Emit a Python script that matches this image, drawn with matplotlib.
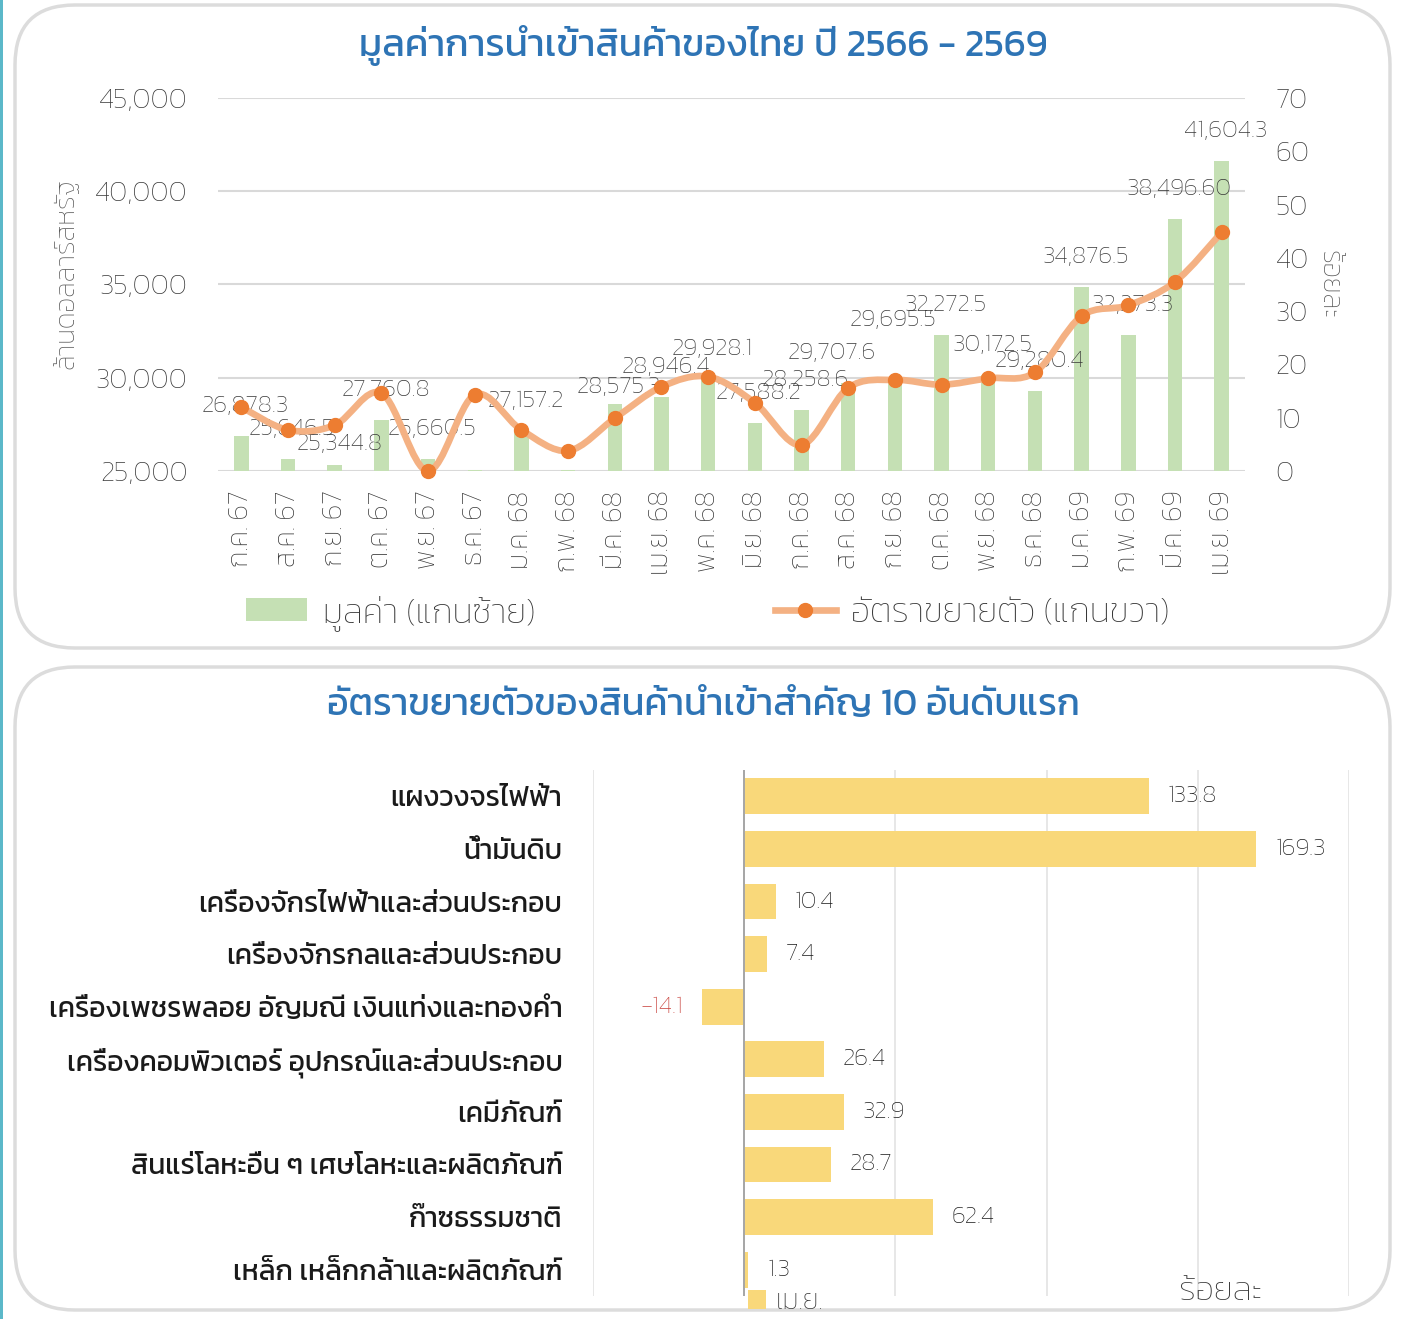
import numpy as np
import matplotlib
matplotlib.use('Agg')
import matplotlib.pyplot as plt
from matplotlib.patches import FancyBboxPatch, Rectangle, Patch, PathPatch
from matplotlib.lines import Line2D
from matplotlib.path import Path

# Datos del grafico superior (importaciones mensuales)
meses = ['ก.ค. 67', 'ส.ค. 67', 'ก.ย. 67', 'ต.ค. 67', 'พ.ย. 67', 'ธ.ค. 67',
         'ม.ค. 68', 'ก.พ. 68', 'มี.ค. 68', 'เม.ย. 68', 'พ.ค. 68', 'มิ.ย. 68',
         'ก.ค. 68', 'ส.ค. 68', 'ก.ย. 68', 'ต.ค. 68', 'พ.ย. 68', 'ธ.ค. 68',
         'ม.ค. 69', 'ก.พ. 69', 'มี.ค. 69', 'เม.ย. 69']
valor_importacion = [26878.3, 25646.5, 25344.8, 27760.8, 25660.5, 25050.0,
                     27157.2, 25030.0, 28575.3, 28946.4, 29928.1, 27588.2,
                     28258.6, 29707.6, 29695.5, 32272.5, 30172.5, 29280.4,
                     34876.5, 32273.3, 38496.6, 41604.3]
etiquetas_valor = ['26,878.3', '25,646.5', '25,344.8', '27,760.8', '25,660.5', None,
                   '27,157.2', None, '28,575.3', '28,946.4', '29,928.1', '27,588.2',
                   '28,258.6', '29,707.6', '29,695.5', '32,272.5', '30,172.5', '29,280.4',
                   '34,876.5', '32,273.3', '38,496.60', '41,604.3']
crecimiento = [12.0, 7.7, 8.6, 14.6, 0.0, 14.3, 7.7, 3.8, 9.9, 15.8, 17.7,
               12.8, 4.9, 15.6, 17.1, 16.2, 17.4, 18.5, 29.1, 31.1, 35.5, 44.8]

# Datos del grafico inferior (10 productos principales)
productos = ['แผงวงจรไฟฟ้า', 'น้ำมันดิบ', 'เครื่องจักรไฟฟ้าและส่วนประกอบ',
             'เครื่องจักรกลและส่วนประกอบ', 'เครื่องเพชรพลอย อัญมณี เงินแท่งและทองคำ',
             'เครื่องคอมพิวเตอร์ อุปกรณ์และส่วนประกอบ', 'เคมีภัณฑ์',
             'สินแร่โลหะอื่น ๆ เศษโลหะและผลิตภัณฑ์', 'ก๊าซธรรมชาติ',
             'เหล็ก เหล็กกล้าและผลิตภัณฑ์']
crecimiento_producto = [133.8, 169.3, 10.4, 7.4, -14.1, 26.4, 32.9, 28.7, 62.4, 1.3]


def curva_suave(x, y):
    # curva tipo Excel (Catmull-Rom convertida a Bezier)
    pts = np.column_stack([x, y]).astype(float)
    verts = [pts[0]]
    codes = [Path.MOVETO]
    n = len(pts)
    for i in range(n - 1):
        p0 = pts[i - 1] if i > 0 else pts[i]
        p1 = pts[i]
        p2 = pts[i + 1]
        p3 = pts[i + 2] if i + 2 < n else pts[i + 1]
        verts += [p1 + (p2 - p0) / 6, p2 - (p3 - p1) / 6, p2]
        codes += [Path.CURVE4] * 3
    return Path(verts, codes)


plt.rcParams['font.family'] = ['Kanit', 'DejaVu Sans']
plt.rcParams['font.weight'] = 'light'
plt.rcParams['axes.labelweight'] = 'light'

W, H = 1405, 1319
fig = plt.figure(figsize=(W / 100, H / 100), dpi=100)
fig.patch.set_facecolor('white')

# Paneles redondeados
for (x0, y0, x1, y1) in [(15, 5, 1390, 648), (15, 667, 1390, 1310)]:
    caja = FancyBboxPatch((x0 / 100, (H - y1) / 100), (x1 - x0) / 100, (y1 - y0) / 100,
                          boxstyle='round,pad=0,rounding_size=0.6',
                          transform=fig.dpi_scale_trans, facecolor='white',
                          edgecolor='#dcdcdc', linewidth=2.5, zorder=-2)
    fig.patches.append(caja)
fig.patches.append(Rectangle((0, 0), 3 / W, 1, transform=fig.transFigure,
                             facecolor='#5bb8c9', edgecolor='none', zorder=-2))

azul = '#2e74b5'
gris = '#383838'
verde = '#c5e0b4'
naranja_linea = '#f4b183'
naranja_punto = '#ed7d31'
amarillo = '#f9d87a'

# ---------------- Grafico superior ----------------
fig.text(703 / W, 1 - 45 / H, 'มูลค่าการนำเข้าสินค้าของไทย ปี 2566 - 2569',
         ha='center', va='center', fontsize=27.5, color=azul, fontweight='normal')

ax1 = fig.add_axes([218 / W, 1 - 471 / H, (1245 - 218) / W, (471 - 98) / H])
ax1.patch.set_alpha(0)
x = np.arange(len(meses))
ax1.bar(x, valor_importacion, width=0.31, color=verde, zorder=2)
ax1.set_ylim(25000, 45000)
ax1.set_xlim(-0.5, len(meses) - 0.5)
ax1.set_yticks([25000, 30000, 35000, 40000, 45000])
ax1.set_yticklabels([f'{v:,}' for v in [25000, 30000, 35000, 40000, 45000]])
ax1.yaxis.grid(True, color='#d9d9d9', linewidth=1.5, zorder=0)
ax1.set_axisbelow(True)
ax1.set_xticks(x)
ax1.set_xticklabels(meses, rotation=90)
ax1.tick_params(axis='x', length=0, pad=14, labelsize=20, labelcolor=gris)
ax1.tick_params(axis='y', length=0, pad=22, labelsize=20.5, labelcolor=gris)
for s in ax1.spines.values():
    s.set_visible(False)
ax1.set_ylabel('ล้านดอลลาร์สหรัฐ', fontsize=19.5, color='#595959')
ax1.yaxis.set_label_coords(-0.135, 0.53)

desplaz = {2: (5, 21), 8: (4, 17), 13: (-17, 30), 14: (-2, 63)}
for i, (v, t) in enumerate(zip(valor_importacion, etiquetas_valor)):
    if t is None:
        continue
    dx, dy = desplaz.get(i, (4, 30))
    ax1.annotate(t, (i, v), xytext=(dx, dy), textcoords='offset pixels',
                 ha='center', va='center', fontsize=18, color=gris, zorder=5)

ax2 = ax1.twinx()
ax2.set_ylim(0, 70)
ax2.set_yticks(range(0, 71, 10))
ax2.tick_params(axis='y', length=0, pad=22, labelsize=20.5, labelcolor=gris)
for s in ax2.spines.values():
    s.set_visible(False)
ax2.set_ylabel('ร้อยละ', fontsize=20, color='#595959', rotation=-90, va='center')
ax2.yaxis.set_label_coords(1.081, 0.50)
ax2.add_patch(PathPatch(curva_suave(x, crecimiento), facecolor='none',
                        edgecolor=naranja_linea, linewidth=4.8, capstyle='round',
                        clip_on=False, zorder=3))
ax2.plot(x, crecimiento, linestyle='none', marker='o', markersize=10,
         color=naranja_punto, clip_on=False, zorder=4)

handles = [Patch(facecolor=verde, edgecolor='none'),
           Line2D([], [], color=naranja_linea, linewidth=4.8, marker='o',
                  markersize=10, markerfacecolor=naranja_punto,
                  markeredgecolor=naranja_punto)]
fig.legend(handles, ['มูลค่า (แกนซ้าย)', 'อัตราขยายตัว (แกนขวา)'], loc='center',
           bbox_to_anchor=(708 / W, 1 - 613 / H), ncol=2, frameon=False,
           fontsize=25, labelcolor=gris, handlelength=1.75, handleheight=0.65,
           handletextpad=0.45, columnspacing=6.9)

# ---------------- Grafico inferior ----------------
fig.text(703 / W, 1 - 706 / H, 'อัตราขยายตัวของสินค้านำเข้าสำคัญ 10 อันดับแรก',
         ha='center', va='center', fontsize=27, color=azul, fontweight='normal')

ax3 = fig.add_axes([593 / W, 1 - 1296 / H, (1349 - 593) / W, (1296 - 770) / H])
ax3.patch.set_alpha(0)
y = np.arange(len(productos))
ax3.barh(y, crecimiento_producto, height=0.68, color=amarillo, zorder=2)
ax3.set_xlim(-50, 200)
ax3.set_ylim(len(productos) - 0.5, -0.5)
ax3.set_xticks([-50, 0, 50, 100, 150, 200])
ax3.set_xticklabels([])
ax3.xaxis.grid(True, color='#e3e3e3', linewidth=1.2, zorder=0)
ax3.set_axisbelow(True)
ax3.axvline(0, color='#a6a6a6', linewidth=1.4, zorder=3)
ax3.set_yticks(y)
ax3.set_yticklabels(productos, fontweight='normal')
ax3.tick_params(axis='y', length=0, pad=22, labelsize=20.3, labelcolor='#1a1a1a')
ax3.tick_params(axis='x', length=0)
for s in ax3.spines.values():
    s.set_visible(False)

for i, v in enumerate(crecimiento_producto):
    if v >= 0:
        ax3.annotate(f'{v}', (v, i), xytext=(19, 0), textcoords='offset pixels',
                     ha='left', va='center', fontsize=18, color='#1a1a1a')
    else:
        ax3.annotate(f'{v}', (v, i), xytext=(-19, 0), textcoords='offset pixels',
                     ha='right', va='center', fontsize=18, color='#c8403a')

fig.legend([Patch(facecolor=amarillo, edgecolor='none')], ['เม.ย.'], loc='upper left',
           bbox_to_anchor=(723 / W, 1 - 1264 / H), frameon=False, fontsize=20,
           labelcolor=gris, handlelength=0.65, handleheight=0.65, handletextpad=0.35)
fig.text(1262 / W, 1 - 1293 / H, 'ร้อยละ', ha='right', va='center', fontsize=24, color=gris)

fig.savefig('out.png', dpi=100)
